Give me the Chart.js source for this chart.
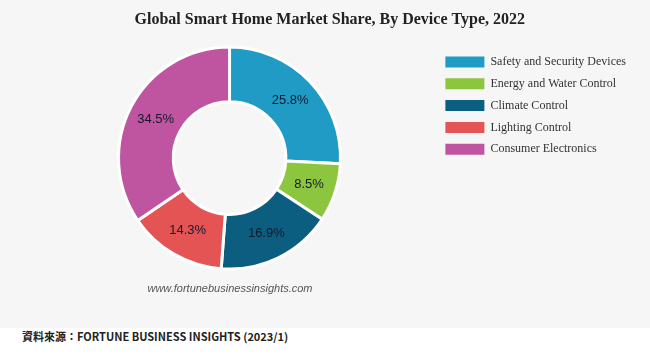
<!DOCTYPE html>
<html>
<head>
<meta charset="utf-8">
<script src="https://cdn.jsdelivr.net/npm/chart.js@4.4.1/dist/chart.umd.min.js"></script>
<style>
  body { margin: 0; width: 650px; height: 354px; background: #fff; overflow: hidden; }
  .panel { position: relative; width: 650px; height: 328px; background: #f6f6f6; }
  .site {
    position: absolute; left: 130px; top: 282px; width: 200px; text-align: center;
    font: italic 11px "Liberation Sans", Arial, sans-serif; color: #555;
  }
  .source {
    height: 26px; line-height: 28px; padding-left: 22px;
    font: bold 11px "Noto Sans CJK TC", "Noto Sans", sans-serif; color: #222;
  }
</style>
</head>
<body>
<div class="panel">
  <canvas id="myChart" width="650" height="328"></canvas>
  <div class="site">www.fortunebusinessinsights.com</div>
</div>
<div class="source">資料來源：FORTUNE BUSINESS INSIGHTS (2023/1)</div>

<script>
// data
const categories = ["Safety and Security Devices", "Energy and Water Control", "Climate Control", "Lighting Control", "Consumer Electronics"];
const shares = [25.8, 8.5, 16.9, 14.3, 34.5];
const colors = ["#1f9bc5", "#8cc63f", "#0c5e80", "#e45455", "#bf54a0"];

// percent labels inside each slice
const sliceLabels = {
  id: "sliceLabels",
  afterDatasetsDraw(chart) {
    const ctx = chart.ctx;
    const meta = chart.getDatasetMeta(0);
    ctx.save();
    ctx.font = "13px 'Liberation Sans', Arial, sans-serif";
    ctx.fillStyle = "#13192b";
    ctx.textAlign = "center";
    ctx.textBaseline = "middle";
    meta.data.forEach((arc, i) => {
      const p = arc.tooltipPosition();
      ctx.fillText(shares[i].toFixed(1) + "%", p.x, p.y);
    });
    ctx.restore();
  }
};

const ctx = document.getElementById("myChart");

new Chart(ctx, {
  type: "doughnut",
  data: {
    labels: categories,
    datasets: [{
      data: shares,
      backgroundColor: colors,
      borderColor: "#ffffff",
      borderWidth: 3,
      hoverOffset: 0,
      radius: 111,
      cutout: 56
    }]
  },
  options: {
    responsive: false,
    animation: false,
    layout: {
      padding: { left: 23.5, right: 14, top: 0, bottom: 58 }
    },
    plugins: {
      title: {
        display: true,
        text: "Global Smart Home Market Share, By Device Type, 2022",
        color: "#222",
        font: { family: "'Liberation Serif', 'Times New Roman', serif", size: 16, weight: "bold" },
        padding: { top: 10, bottom: 17 }
      },
      legend: {
        position: "right",
        align: "start",
        fullSize: false,
        labels: {
          boxWidth: 39,
          boxHeight: 11,
          padding: 9.8,
          color: "#333",
          font: { family: "'Liberation Serif', 'Times New Roman', serif", size: 12 },
          generateLabels(chart) {
            const base = Chart.controllers.doughnut.overrides.plugins.legend.labels.generateLabels(chart);
            return base.map((item) => Object.assign(item, { lineWidth: 0, strokeStyle: "transparent" }));
          }
        }
      },
      tooltip: { enabled: false }
    }
  },
  plugins: [sliceLabels]
});
</script>
</body>
</html>
